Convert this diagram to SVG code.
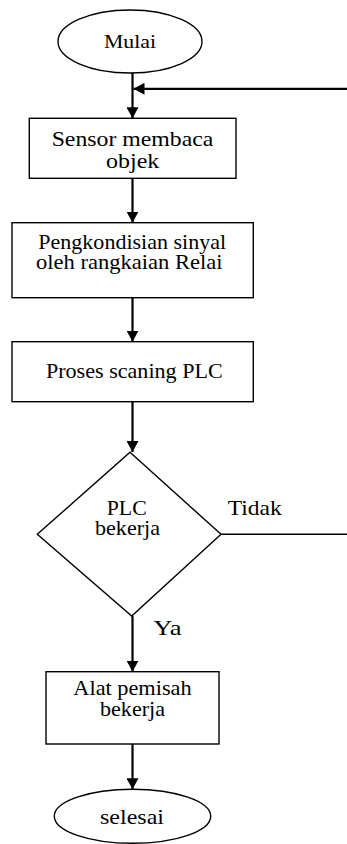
<svg xmlns="http://www.w3.org/2000/svg" width="347" height="844" viewBox="0 0 347 844">
  <style>
    .shape { fill: #ffffff; stroke: #000000; stroke-width: 1.4; }
    .conn { fill: none; stroke: #000000; stroke-width: 2.2; }
    .thin { fill: none; stroke: #000000; stroke-width: 1.6; }
    text { font-family: "Liberation Serif", "Times New Roman", serif; font-size: 21px; fill: #000000; text-anchor: middle; }
  </style>
  <defs>
    <marker id="arrow" markerUnits="userSpaceOnUse" markerWidth="12" markerHeight="12" refX="11" refY="6" orient="auto">
      <path d="M0,0 L11,6 L0,12 Z" fill="#000000"/>
    </marker>
  </defs>
  <rect width="347" height="844" fill="#ffffff"/>

  <g id="connectors">
    <line class="conn" x1="132.5" y1="73" x2="132.5" y2="118.3" marker-end="url(#arrow)"/>
    <line class="conn" x1="347" y1="88.8" x2="133.5" y2="88.8" marker-end="url(#arrow)"/>
    <line class="conn" x1="132.5" y1="178.3" x2="132.5" y2="222.7" marker-end="url(#arrow)"/>
    <line class="conn" x1="132.5" y1="297.7" x2="132.5" y2="341.7" marker-end="url(#arrow)"/>
    <line class="conn" x1="132.5" y1="401.7" x2="132.5" y2="452" marker-end="url(#arrow)"/>
    <line class="thin" x1="221" y1="534.3" x2="347" y2="534.3"/>
    <line class="conn" x1="132.5" y1="616" x2="132.5" y2="671.7" marker-end="url(#arrow)"/>
    <line class="conn" x1="132.5" y1="744" x2="132.5" y2="789.3" marker-end="url(#arrow)"/>
    <text x="254.7" y="515" textLength="54" lengthAdjust="spacingAndGlyphs">Tidak</text>
    <text x="167.5" y="635" textLength="28.4" lengthAdjust="spacingAndGlyphs">Ya</text>
  </g>

  <g id="mulai">
    <ellipse class="shape" cx="130" cy="41.5" rx="72" ry="31.5"/>
    <text x="130" y="48.3" style="font-size:19px" textLength="52" lengthAdjust="spacingAndGlyphs">Mulai</text>
  </g>

  <g id="sensor">
    <rect class="shape" x="29.3" y="118.3" width="206.7" height="60"/>
    <text x="132.5" y="146" textLength="161.7" lengthAdjust="spacingAndGlyphs">Sensor membaca</text>
    <text x="132.7" y="168.3" textLength="53.3" lengthAdjust="spacingAndGlyphs">objek</text>
  </g>

  <g id="pengkondisian">
    <rect class="shape" x="12" y="222.7" width="241.3" height="75"/>
    <text x="132.2" y="249.3" textLength="187.7" lengthAdjust="spacingAndGlyphs">Pengkondisian sinyal</text>
    <text x="129.3" y="269.3" textLength="186.7" lengthAdjust="spacingAndGlyphs">oleh rangkaian Relai</text>
  </g>

  <g id="proses">
    <rect class="shape" x="12" y="341.7" width="241.3" height="60"/>
    <text x="134.3" y="378.3" textLength="176.7" lengthAdjust="spacingAndGlyphs">Proses scaning PLC</text>
  </g>

  <g id="plc-bekerja">
    <polygon class="shape" points="130,452.3 221,534.3 131.7,616 37.3,534.3"/>
    <text x="126.7" y="515" textLength="40" lengthAdjust="spacingAndGlyphs">PLC</text>
    <text x="127.5" y="535" textLength="65" lengthAdjust="spacingAndGlyphs">bekerja</text>
  </g>

  <g id="alat-pemisah">
    <rect class="shape" x="46" y="671.7" width="173" height="72.3"/>
    <text x="132.5" y="695" textLength="118.3" lengthAdjust="spacingAndGlyphs">Alat pemisah</text>
    <text x="132.5" y="715.5" textLength="65" lengthAdjust="spacingAndGlyphs">bekerja</text>
  </g>

  <g id="selesai">
    <ellipse class="shape" cx="132.5" cy="816.3" rx="78.2" ry="27"/>
    <text x="132" y="823.5" textLength="64" lengthAdjust="spacingAndGlyphs">selesai</text>
  </g>
</svg>
